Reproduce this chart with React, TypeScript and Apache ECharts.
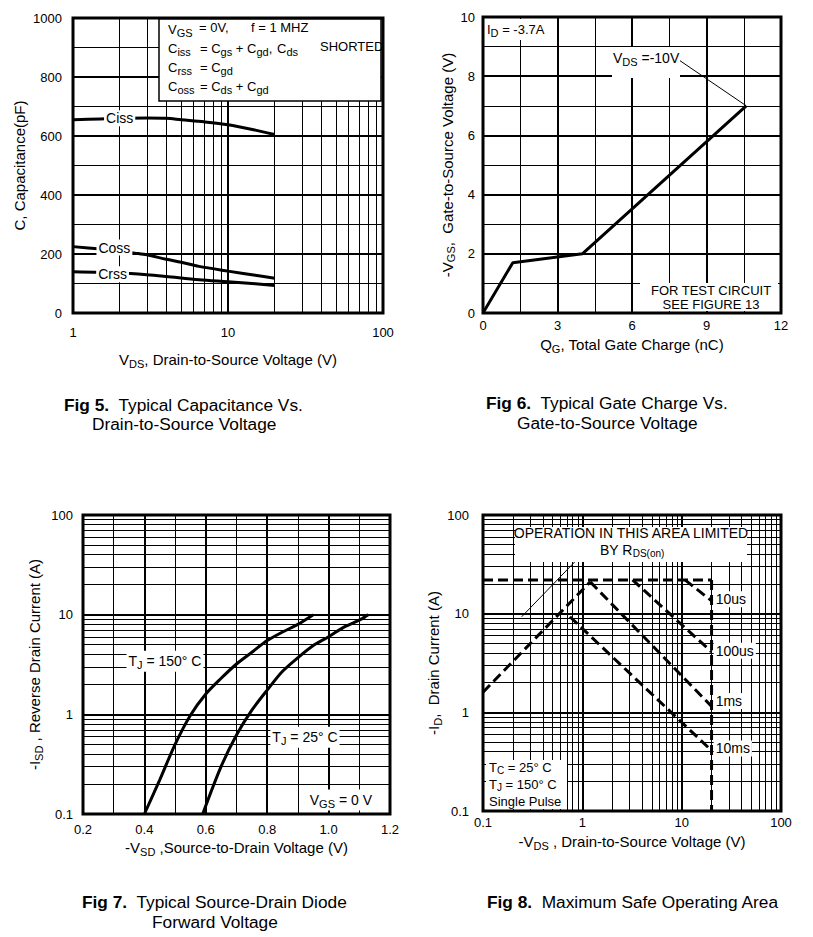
import React, { useEffect, useRef } from 'react';
import * as echarts from 'echarts';

const FONT = '"Liberation Sans", Arial, Helvetica, sans-serif';

// ---------- Fig 5 : capacitance vs VDS ----------
const cissData = [[1, 655], [1.5, 658], [2, 660], [3, 661], [4, 660], [5, 655], [7, 648], [10, 638], [15, 620], [20, 605]];
const cossData = [[1, 225], [1.5, 217], [2, 210], [2.5, 203], [3, 197], [4, 182], [5, 172], [6.5, 158], [10, 142], [15, 128], [20, 118]];
const crssData = [[1, 140], [2, 136], [3, 130], [4, 124], [6.5, 113], [10, 106], [15, 99], [20, 93]];
const fig5MinorX = [2, 3, 4, 5, 6, 7, 8, 9, 20, 30, 40, 50, 60, 70, 80, 90];

// ---------- Fig 6 : gate charge ----------
const gateChargeData = [[0, 0], [1.2, 1.7], [4, 2], [10.6, 7]];
const gateLeader = [[7.8, 8.6], [10.6, 7]];

// ---------- Fig 7 : diode forward voltage ----------
const tj150Data = [[0.4, 0.1], [0.45, 0.22], [0.5, 0.5], [0.55, 0.98], [0.6, 1.6], [0.65, 2.3], [0.7, 3.2], [0.75, 4.2], [0.8, 5.5], [0.85, 6.7], [0.9, 8.0], [0.95, 10]];
const tj25Data = [[0.59, 0.1], [0.65, 0.3], [0.7, 0.62], [0.75, 1.1], [0.8, 1.75], [0.85, 2.7], [0.9, 3.7], [0.95, 4.9], [1.0, 6.0], [1.05, 7.5], [1.1, 8.8], [1.13, 10]];
const logMinor = [0.2, 0.3, 0.4, 0.5, 0.6, 0.7, 0.8, 0.9, 2, 3, 4, 5, 6, 7, 8, 9, 20, 30, 40, 50, 60, 70, 80, 90];

// ---------- Fig 8 : safe operating area ----------
const soaCurrentLimit = [[0.1, 22], [20, 22]];
const soaVoltageLimit = [[20, 22], [20, 0.1]];
const soaRds = [[0.1, 1.6], [1.2, 21]];
const soa10us = [[10.8, 22], [20, 13.5]];
const soa100us = [[3.2, 22], [20, 4.1]];
const soa1ms = [[1.2, 21], [20, 1.15]];
const soa10ms = [[0.75, 9.3], [20, 0.41]];
const soaLeader = [[0.245, 9.3], [1.28, 52]];

const RICH = {
  s: { fontSize: 11, fontFamily: FONT, color: '#000', padding: [8, 0, 0, 0] },
  b: { fontSize: 17.3, fontFamily: FONT, fontWeight: 'bold', color: '#000' },
};
const RICH_TIGHT = {
  s: { fontSize: 10, fontFamily: FONT, color: '#000', padding: [7, 0, 0, 0] },
};

const axisBase = (extra: any) => ({
  axisLine: { show: false },
  axisTick: { show: false },
  splitLine: { show: true, lineStyle: { color: '#000', width: 2 } },
  nameLocation: 'middle',
  nameTextStyle: { color: '#000', fontSize: 15, fontFamily: FONT, rich: RICH },
  ...extra,
});

const tickLabel = (margin: number, formatter?: any) => ({
  color: '#000',
  fontSize: 13,
  fontFamily: FONT,
  margin,
  formatter: formatter || ((v: number) => String(v)),
});

const minorLin = {
  minorTick: { show: false, splitNumber: 2 },
  minorSplitLine: { show: true, lineStyle: { color: '#000', width: 1 } },
};

const minorGridSeries = (idx: number, xs: number[], ys: number[]) => ({
  type: 'line',
  xAxisIndex: idx,
  yAxisIndex: idx,
  data: [],
  silent: true,
  z: 1,
  markLine: {
    silent: true,
    symbol: 'none',
    animation: false,
    label: { show: false },
    lineStyle: { color: '#000', width: 1, type: 'solid' },
    data: [...xs.map((v) => ({ xAxis: v })), ...ys.map((v) => ({ yAxis: v }))],
  },
});

const curve = (idx: number, data: number[][], extra: any = {}) => ({
  type: 'line',
  xAxisIndex: idx,
  yAxisIndex: idx,
  data,
  showSymbol: false,
  symbol: 'none',
  silent: true,
  z: 3,
  lineStyle: { color: '#000', width: 3 },
  ...extra,
});

const dashed = { lineStyle: { color: '#000', width: 3, type: [10, 5] } };

const labelPoint = (coord: number[], text: string, position: string = 'inside', fontSize = 14) => ({
  coord,
  symbolSize: 0,
  label: {
    show: true,
    position,
    distance: 0,
    formatter: text,
    color: '#000',
    fontSize,
    fontFamily: FONT,
    backgroundColor: '#fff',
    padding: [1, 2, 1, 2],
    rich: RICH,
  },
});

const markPoints = (items: any[]) => ({
  symbol: 'rect',
  symbolSize: 0,
  silent: true,
  animation: false,
  itemStyle: { color: 'transparent' },
  data: items,
});

const txt = (x: number, y: number, text: string, fontSize = 13, align = 'left', rich: any = RICH) => ({
  type: 'text',
  x,
  y,
  z: 20,
  style: { text, fill: '#000', fontSize, fontFamily: FONT, align, verticalAlign: 'middle', rich },
});

const whiteRect = (x: number, y: number, width: number, height: number, stroke = false) => ({
  type: 'rect',
  z: 15,
  shape: { x, y, width, height },
  style: { fill: '#fff', stroke: stroke ? '#000' : 'none', lineWidth: stroke ? 1.5 : 0 },
});

export default function App() {
  const ref = useRef<HTMLDivElement>(null);
  useEffect(() => {
    if (!ref.current) return;
    const chart = echarts.init(ref.current, null, { renderer: 'svg' });
    const gridStyle = { show: true, borderColor: '#000', borderWidth: 3, backgroundColor: 'transparent' };
    const option: any = {
      animation: false,
      backgroundColor: '#fff',
      textStyle: { fontFamily: FONT },
      grid: [
        { left: 73, top: 18, width: 310, height: 295, ...gridStyle },
        { left: 483, top: 17, width: 298, height: 296, ...gridStyle },
        { left: 83, top: 515, width: 307, height: 299, ...gridStyle },
        { left: 483, top: 515, width: 298, height: 296, ...gridStyle },
      ],
      xAxis: [
        axisBase({ gridIndex: 0, type: 'log', logBase: 10, min: 1, max: 100, name: 'V{s|DS}, Drain-to-Source Voltage (V)', nameGap: 37, axisLabel: tickLabel(13) }),
        axisBase({ gridIndex: 1, type: 'value', min: 0, max: 12, interval: 3, name: 'Q{s|G}, Total Gate Charge (nC)', nameGap: 22, axisLabel: tickLabel(6), ...minorLin }),
        axisBase({ gridIndex: 2, type: 'value', min: 0.2, max: 1.2, interval: 0.2, name: '-V{s|SD} ,Source-to-Drain Voltage (V)', nameGap: 24, axisLabel: tickLabel(9, (v: number) => v.toFixed(1)), ...minorLin }),
        axisBase({ gridIndex: 3, type: 'log', logBase: 10, min: 0.1, max: 100, name: '-V{s|DS} , Drain-to-Source Voltage (V)', nameGap: 21, axisLabel: tickLabel(5) }),
      ],
      yAxis: [
        axisBase({ gridIndex: 0, type: 'value', min: 0, max: 1000, interval: 200, name: 'C, Capacitance(pF)', nameGap: 46, axisLabel: tickLabel(11), ...minorLin }),
        axisBase({ gridIndex: 1, type: 'value', min: 0, max: 10, interval: 2, name: '-V{s|GS},  Gate-to-Source Voltage (V)', nameGap: 25, axisLabel: tickLabel(8), ...minorLin }),
        axisBase({ gridIndex: 2, type: 'log', logBase: 10, min: 0.1, max: 100, name: '-I{s|SD} , Reverse Drain Current (A)', nameGap: 39, axisLabel: tickLabel(10) }),
        axisBase({ gridIndex: 3, type: 'log', logBase: 10, min: 0.1, max: 100, name: '-I{s|D},  Drain Current (A)', nameGap: 25, axisLabel: tickLabel(14) }),
      ],
      series: [
        // Fig 5
        minorGridSeries(0, fig5MinorX, []),
        curve(0, cissData, { smooth: 0.3, markPoint: markPoints([labelPoint([2.0, 660], 'Ciss')]) }),
        curve(0, cossData, { smooth: 0.3, markPoint: markPoints([labelPoint([1.85, 222], 'Coss')]) }),
        curve(0, crssData, { smooth: 0.3, markPoint: markPoints([labelPoint([1.8, 131], 'Crss')]) }),
        // Fig 6
        curve(1, gateChargeData),
        curve(1, gateLeader, { lineStyle: { color: '#000', width: 1 } }),
        // Fig 7
        minorGridSeries(2, [], logMinor),
        curve(2, tj150Data, { smooth: 0.3, markPoint: markPoints([labelPoint([0.467, 3.4], 'T{s|J} = 150° C')]) }),
        curve(2, tj25Data, {
          smooth: 0.3,
          markPoint: markPoints([
            labelPoint([0.923, 0.59], 'T{s|J} = 25° C'),
            labelPoint([1.04, 0.138], 'V{s|GS} = 0 V'),
          ]),
        }),
        // Fig 8
        minorGridSeries(3, logMinor, logMinor),
        curve(3, soaCurrentLimit, dashed),
        curve(3, soaVoltageLimit, dashed),
        curve(3, soaRds, dashed),
        curve(3, soa10us, { ...dashed, markPoint: markPoints([labelPoint([21, 14], '10us', 'right', 14)]) }),
        curve(3, soa100us, { ...dashed, markPoint: markPoints([labelPoint([21, 4.2], '100us', 'right', 14)]) }),
        curve(3, soa1ms, { ...dashed, markPoint: markPoints([labelPoint([21, 1.3], '1ms', 'right', 14)]) }),
        curve(3, soa10ms, { ...dashed, markPoint: markPoints([labelPoint([21, 0.43], '10ms', 'right', 14)]) }),
        curve(3, soaLeader, { lineStyle: { color: '#000', width: 1 } }),
      ],
      graphic: [
        // Fig 5 legend box
        whiteRect(159, 19, 222, 82, true),
        txt(168, 29, 'V{s|GS}'),
        txt(199, 27, '= 0V,'),
        txt(251, 27, 'f = 1 MHZ'),
        txt(168, 48, 'C{s|iss}'),
        txt(200, 48, '= C{s|gs} + C{s|gd},'),
        txt(277, 48, 'C{s|ds}'),
        txt(320, 46, 'SHORTED'),
        txt(168, 67, 'C{s|rss}'),
        txt(200, 67, '= C{s|gd}'),
        txt(168, 86, 'C{s|oss}'),
        txt(200, 86, '= C{s|ds} + C{s|gd}'),
        // Fig 6 boxes
        whiteRect(485, 19, 71, 21),
        txt(487, 29, 'I{s|D} = -3.7A'),
        whiteRect(612, 47, 68, 31),
        txt(613, 58, 'V{s|DS} =-10V', 14),
        whiteRect(640, 283, 138, 28),
        txt(711, 290, 'FOR TEST CIRCUIT', 13, 'center'),
        txt(711, 304, 'SEE FIGURE 13', 13, 'center'),
        // Fig 8 boxes
        whiteRect(515, 527, 232, 35),
        txt(631, 533, 'OPERATION IN THIS AREA LIMITED', 14, 'center'),
        txt(600, 550, 'BY R{s|DS(on)}', 14, 'left', RICH_TIGHT),
        whiteRect(486, 760, 81, 49),
        txt(489, 767, 'T{s|C} = 25° C', 13, 'left', RICH_TIGHT),
        txt(489, 784, 'T{s|J} = 150° C', 13, 'left', RICH_TIGHT),
        txt(489, 801, 'Single Pulse', 13),
        // Captions
        txt(64, 405, '{b|Fig 5.}  Typical Capacitance Vs.', 17.3),
        txt(92, 424, 'Drain-to-Source Voltage', 17.3),
        txt(486, 403, '{b|Fig 6.}  Typical Gate Charge Vs.', 17.3),
        txt(517, 423, 'Gate-to-Source Voltage', 17.3),
        txt(82, 902, '{b|Fig 7.}  Typical Source-Drain Diode', 17.3),
        txt(152, 922, 'Forward Voltage', 17.3),
        txt(487, 902, '{b|Fig 8.}  Maximum Safe Operating Area', 17.3),
      ],
    };
    chart.setOption(option);
    return () => chart.dispose();
  }, []);
  return (
    <div
      ref={ref}
      style={{ position: 'fixed', left: 0, top: 0, width: 813, height: 937, background: '#fff' }}
    />
  );
}
